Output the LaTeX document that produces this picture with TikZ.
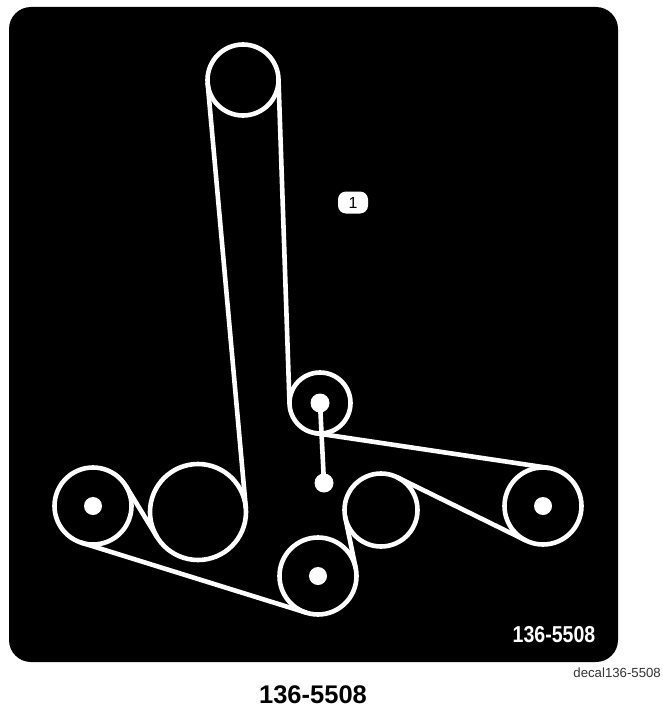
\documentclass[tikz,border=0pt]{standalone}
\usepackage{fontspec}
\setmainfont{Liberation Sans}
\usepackage{tikz}
\usetikzlibrary{positioning}

\begin{document}
\begin{tikzpicture}[
    x=1pt, y=-1pt,
    panel/.style={fill=black, rounded corners=22pt},
    wheel/.style={draw=white, line width=4.6pt, circle, inner sep=0pt, outer sep=0pt, minimum size=#1},
    hub/.style={fill=white, circle, inner sep=0pt, outer sep=0pt, minimum size=#1},
    belt/.style={draw=white, line width=4.6pt, line cap=round},
    tag/.style={fill=white, rounded corners=8pt, minimum width=30pt, minimum height=22pt, inner sep=0pt, font=\fontsize{16}{18}\selectfont}
]

\useasboundingbox (0,0) rectangle (662,709);
\fill[panel] (9,7) rectangle (618,662);

\node[wheel=71pt] (top) at (243,80) {};
\node[wheel=61pt] (idler) at (320,403) {};
\node[wheel=77pt] (left) at (93,506) {};
\node[wheel=96pt] (big) at (198,512) {};
\node[wheel=77pt] (bottom) at (318,576) {};
\node[wheel=73pt] (mid) at (381,510) {};
\node[wheel=77pt] (right) at (543,506) {};

\node[hub=19pt] (idlerhub) at (idler) {};
\node[hub=19pt] (armhub) at (324,483) {};
\node[hub=18pt] (lefthub) at (left) {};
\node[hub=18pt] (bottomhub) at (bottom) {};
\node[hub=18pt] (righthub) at (right) {};

\draw[belt] (idlerhub.center) -- (armhub.center);

% belt run
\draw[belt] (top.185.2) -- (big.5.2);
\draw[belt] (top.1.9) -- (idler.181.9);
\draw[belt] (idler.261.5) -- (right.81.5);
\draw[belt] (right.243.8) -- (mid.63.8);
\draw[belt] (mid.191.6) -- (bottom.11.6);
\draw[belt] (bottom.252.7) -- (left.252.7);
\draw[belt] (left.31.4) -- (big.211.4);

\node[tag] (one) at (353,202.5) {1};

\node[text=white, font=\bfseries\fontsize{23}{25}\selectfont, xscale=0.85] (decal) at (554,635) {136-5508};
\node[anchor=east, inner sep=0pt, text=black!80, font=\fontsize{13.2}{15}\selectfont] (source) at (661,673) {decal136-5508};
\node[anchor=base, inner sep=0pt, font=\bfseries\fontsize{25.5}{27}\selectfont] (caption) at (313,703.5) {136-5508};

\end{tikzpicture}
\end{document}
